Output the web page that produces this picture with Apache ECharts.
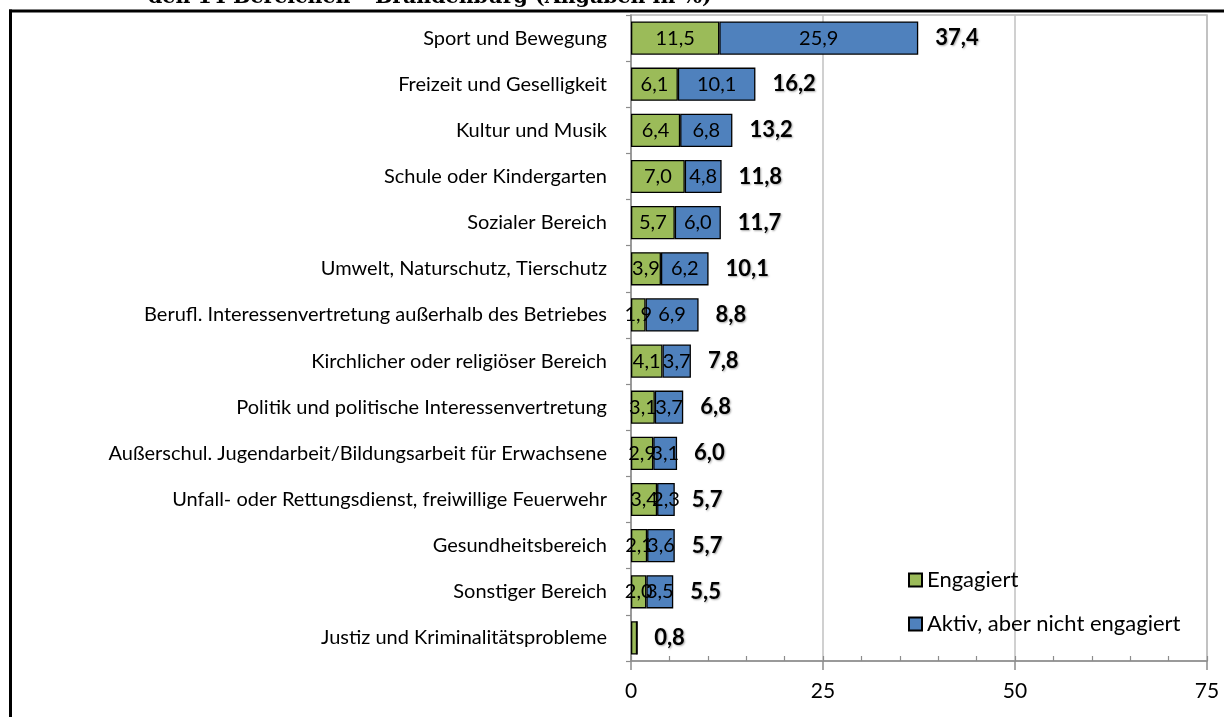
<!DOCTYPE html>
<html>
<head>
<meta charset="utf-8">
<style>
  html, body { margin: 0; padding: 0; background: #fff; }
  #chart { width: 1224px; height: 717px; }
</style>
<script src="https://cdn.jsdelivr.net/npm/echarts@6/dist/echarts.min.js"></script>
</head>
<body>
<div id="chart"></div>
<script>
// Bereiche (top to bottom)
const categories = [
  'Sport und Bewegung',
  'Freizeit und Geselligkeit',
  'Kultur und Musik',
  'Schule oder Kindergarten',
  'Sozialer Bereich',
  'Umwelt, Naturschutz, Tierschutz',
  'Berufl. Interessenvertretung außerhalb des Betriebes',
  'Kirchlicher oder religiöser Bereich',
  'Politik und politische Interessenvertretung',
  'Außerschul. Jugendarbeit/Bildungsarbeit für Erwachsene',
  'Unfall- oder Rettungsdienst, freiwillige Feuerwehr',
  'Gesundheitsbereich',
  'Sonstiger Bereich',
  'Justiz und Kriminalitätsprobleme'
];
const engagiert = [11.5, 6.1, 6.4, 7.0, 5.7, 3.9, 1.9, 4.1, 3.1, 2.9, 3.4, 2.1, 2.0, 0.8];
const aktiv     = [25.9, 10.1, 6.8, 4.8, 6.0, 6.2, 6.9, 3.7, 3.7, 3.1, 2.3, 3.6, 3.5, 0.0];
const gesamt    = [37.4, 16.2, 13.2, 11.8, 11.7, 10.1, 8.8, 7.8, 6.8, 6.0, 5.7, 5.7, 5.5, 0.8];
const xTicks    = [0, 25, 50, 75];

const titleText = 'den 14 Bereichen – Brandenburg (Angaben in %)';
const FONT = 'Lato, "Open Sans", sans-serif';

const fmt = v => v.toFixed(1).replace('.', ',');
const segLabel = p => (p.value < 1 ? '' : fmt(p.value));

const chart = echarts.init(document.getElementById('chart'), null, { renderer: 'canvas' });

chart.setOption({
  backgroundColor: '#ffffff',
  animation: false,
  textStyle: { fontFamily: FONT },
  grid: {
    left: 631, right: 17, top: 15, bottom: 56,
    show: true, borderColor: '#b5b5b5', borderWidth: 1.5
  },
  legend: {
    orient: 'vertical',
    left: 903, top: 564,
    itemWidth: 13, itemHeight: 13,
    itemGap: 22,
    icon: 'rect',
    data: ['Engagiert', 'Aktiv, aber nicht engagiert'],
    textStyle: { fontFamily: FONT, fontSize: 22, color: '#000' }
  },
  xAxis: [{
    type: 'value',
    min: xTicks[0], max: xTicks[xTicks.length - 1], interval: 25,
    axisLine: { show: true, lineStyle: { color: '#8c8c8c', width: 1.5 } },
    axisTick: { show: true, length: 9, lineStyle: { color: '#8c8c8c', width: 1.5 } },
    axisLabel: { margin: 20, fontSize: 21, color: '#000', fontFamily: FONT },
    splitLine: { show: true, lineStyle: { color: '#c0c0c0', width: 1.5 } }
  }, {
    type: 'value',
    min: 0, max: 75, interval: 5,
    position: 'bottom',
    axisLine: { show: false },
    axisTick: { show: true, inside: true, length: 5, lineStyle: { color: '#8c8c8c', width: 1.2 } },
    axisLabel: { show: false },
    splitLine: { show: false }
  }],
  yAxis: {
    type: 'category',
    inverse: true,
    data: categories,
    axisLine: { show: true, lineStyle: { color: '#8c8c8c', width: 1.5 } },
    axisTick: { show: true, length: 5, lineStyle: { color: '#8c8c8c', width: 1.2 } },
    axisLabel: { margin: 24, fontSize: 20, color: '#000', fontFamily: FONT }
  },
  series: [{
    name: 'Engagiert',
    type: 'bar',
    stack: 'total',
    barCategoryGap: '28%',
    data: engagiert,
    itemStyle: { color: '#9bbb59', borderColor: '#000', borderWidth: 1.3 },
    label: { show: true, position: 'inside', formatter: segLabel, color: '#000', fontSize: 20, fontFamily: FONT }
  }, {
    name: 'Aktiv, aber nicht engagiert',
    type: 'bar',
    stack: 'total',
    data: aktiv,
    itemStyle: { color: '#4f81bd', borderColor: '#000', borderWidth: 1.3 },
    label: { show: true, position: 'inside', formatter: segLabel, color: '#000', fontSize: 20, fontFamily: FONT }
  }, {
    name: 'Gesamt',
    type: 'bar',
    barGap: '-100%',
    data: gesamt,
    silent: true,
    z: 1,
    itemStyle: { color: 'rgba(0,0,0,0)' },
    label: {
      show: true, position: 'right', distance: 17,
      formatter: p => fmt(p.value),
      color: '#000', fontSize: 22, fontWeight: 'bold', fontFamily: FONT,
      textShadowColor: 'rgba(0,0,0,0.35)', textShadowBlur: 2,
      textShadowOffsetX: 1, textShadowOffsetY: 1
    }
  }],
  graphic: [
    // title line, cut at the top edge
    { type: 'text', left: 148, bottom: 709, z: 10,
      style: { text: titleText, font: 'bold 20.5px "DejaVu Serif", serif', fill: '#000' } },
    // frame lines
    { type: 'rect', shape: { x: 9, y: 9.5, width: 1215, height: 3 }, style: { fill: '#000' }, z: 10 },
    { type: 'rect', shape: { x: 9, y: 9.5, width: 3, height: 708 }, style: { fill: '#000' }, z: 10 }
  ]
});
</script>
</body>
</html>
